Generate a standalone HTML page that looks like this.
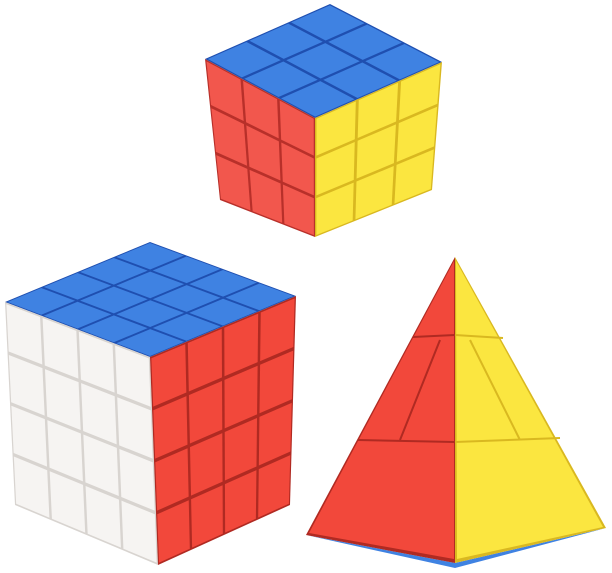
<!DOCTYPE html>
<html><head><meta charset="utf-8"><style>
html,body{margin:0;padding:0;background:#fff;width:612px;height:573px;overflow:hidden}
</style></head><body>
<svg id="s" width="612" height="573" viewBox="0 0 612 573" xmlns="http://www.w3.org/2000/svg">
<rect width="612" height="573" fill="#fff"/>
</svg>
<script>
const svg=document.getElementById('s');
const NS='http://www.w3.org/2000/svg';
function lerp(a,b,t){return [a[0]+(b[0]-a[0])*t,a[1]+(b[1]-a[1])*t];}
function bil(q,u,v){return lerp(lerp(q[0],q[1],u),lerp(q[3],q[2],u),v);}
function poly(pts,fill,name){
  const p=document.createElementNS(NS,'polygon');
  p.setAttribute('points',pts.map(a=>a.join(',')).join(' '));
  p.setAttribute('fill',fill);
  
  
  svg.appendChild(p);
}
function face(q,n,fill,dark,name){
  poly(q,dark,name+'-base');
  const g=0.035;
  for(let i=0;i<n;i++)for(let j=0;j<n;j++){
    const u0=i/n+g/n,u1=(i+1)/n-g/n,v0=j/n+g/n,v1=(j+1)/n-g/n;
    poly([bil(q,u0,v0),bil(q,u1,v0),bil(q,u1,v1),bil(q,u0,v1)],fill,name+'-sticker');
  }
}
function line(a,b,c,name){
  const e=document.createElementNS(NS,'line');
  e.setAttribute('x1',a[0]);e.setAttribute('y1',a[1]);
  e.setAttribute('x2',b[0]);e.setAttribute('y2',b[1]);
  e.setAttribute('stroke',c);e.setAttribute('stroke-width','2');
  
  
  svg.appendChild(e);
}
// 3x3 cube
face([[205,59],[330,4],[442,62],[315,118]],3,'#3f82e2','#1f4fb0','cube3-top');
face([[205,59],[315,118],[315,237],[220,200]],3,'#f2574d','#b8302a','cube3-left');
face([[315,118],[442,62],[432,190],[315,237]],3,'#fbe640','#d9b820','cube3-right');
// 4x4 cube
face([[5,302],[150,242],[296,296],[150,357]],4,'#3f82e2','#1f4fb0','cube4-top');
face([[5,302],[150,357],[158,565],[15,505]],4,'#f6f4f2','#d8d4d0','cube4-left');
face([[150,357],[296,296],[290,505],[158,565]],4,'#f2483b','#b02a22','cube4-right');
// pyramid
poly([[306,535],[455,563],[606,528],[455,568]],'#3f82e2','pyramid-bottom-edge');
poly([[455,257],[306,535],[455,563]],'#b02a22','pyramid-left-base');
poly([[455,257],[455,563],[606,528]],'#d9b820','pyramid-right-base');
poly([[454,261],[309,533],[454,559]],'#f2483b','pyramid-red-face');
poly([[456,261],[457,559],[603,527]],'#fbe640','pyramid-yellow-face');
line([413,337],[455,335],'#b02a22','pyramid-tier-line');
line([358,440],[455,442],'#b02a22','pyramid-tier-line');
line([455,335],[503,338],'#d9b820','pyramid-tier-line');
line([455,442],[560,438],'#d9b820','pyramid-tier-line');
line([400,440],[440,340],'#b02a22','pyramid-diagonal-line');
line([470,340],[520,440],'#d9b820','pyramid-diagonal-line');
</script>
</body></html>
